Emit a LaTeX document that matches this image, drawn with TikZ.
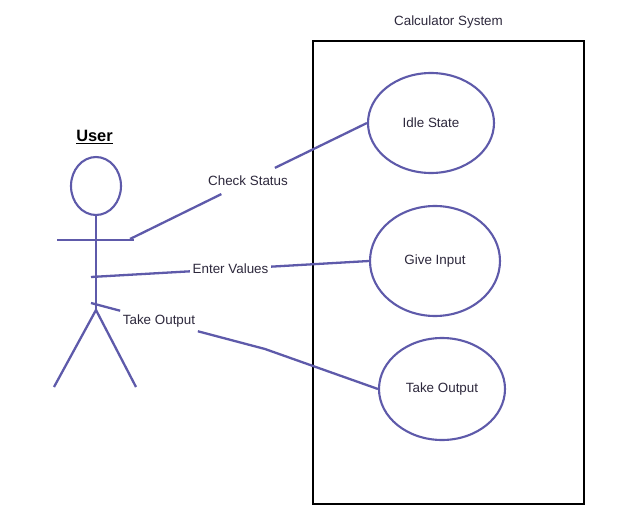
\documentclass[tikz,border=0pt]{standalone}
\usepackage{fontspec}
\setmainfont{Liberation Sans}
\definecolor{umlblue}{RGB}{94,90,170}
\definecolor{txtgray}{RGB}{45,40,60}
\tikzset{
  x=1pt,y=-1pt,
  umlline/.style={draw=umlblue,line width=2.3pt},
  usecase/.style={ellipse,draw=umlblue,line width=2.1pt,fill=white,inner sep=0pt,minimum width=#1},
  caption/.style={font=\fontsize{13.4}{15}\selectfont,text=txtgray,inner sep=0pt},
  linklabel/.style={caption,fill=white,inner xsep=2.5pt,inner ysep=5pt},
}
\usetikzlibrary{shapes.geometric}
\begin{document}
\begin{tikzpicture}
\useasboundingbox (0,0) rectangle (618,516);
\node[draw=black,line width=2.4pt,minimum width=271pt,minimum height=463pt,inner sep=0pt] (system) at (448.5,272.5) {};
\node[caption] (systemtitle) at (448.5,22) {Calculator System};
\node[usecase=126pt,minimum height=100pt,caption] (idle) at (431,123) {};
\node[caption] (idletext) at (431,123) {Idle State};
\node[usecase=130pt,minimum height=110pt,caption] (input) at (435,261) {};
\node[caption] (inputtext) at (435,261) {Give Input};
\node[usecase=126pt,minimum height=102pt,caption] (output) at (442,389) {};
\node[caption] (outputtext) at (442,389) {Take Output};
\node[font=\fontsize{16.4}{18}\selectfont\bfseries,inner sep=0pt] (user) at (94.5,137) {\underline{User}};
\node[ellipse,draw=umlblue,line width=2.1pt,minimum width=50pt,minimum height=58pt,inner sep=0pt] (head) at (96,186) {};
\coordinate (hip) at (96,310);
\coordinate (armL) at (57,240);
\coordinate (armR) at (134,240);
\coordinate (footL) at (54,387);
\coordinate (footR) at (136,387);
\coordinate (c1) at (130,239);
\coordinate (c2) at (91,277);
\coordinate (c3) at (91,303);
\coordinate (bend) at (265,349);
\draw[umlline] (head.south) -- (hip);
\draw[umlline] (armL) -- (armR);
\draw[umlline] (footL) -- (hip) -- (footR);
\node[linklabel,inner ysep=8pt] (check) at (248,181) {Check Status};
\node[linklabel] (enter) at (230.5,269) {Enter Values};
\node[linklabel] (take) at (159,321) {Take Output};
\draw[umlline] (c1) -- (check);
\draw[umlline] (check) -- (idle.west);
\draw[umlline] (c2) -- (enter);
\draw[umlline] (enter) -- (input.west);
\draw[umlline] (c3) -- (take);
\draw[umlline] (take) -- (bend) -- (output.west);
\end{tikzpicture}
\end{document}
